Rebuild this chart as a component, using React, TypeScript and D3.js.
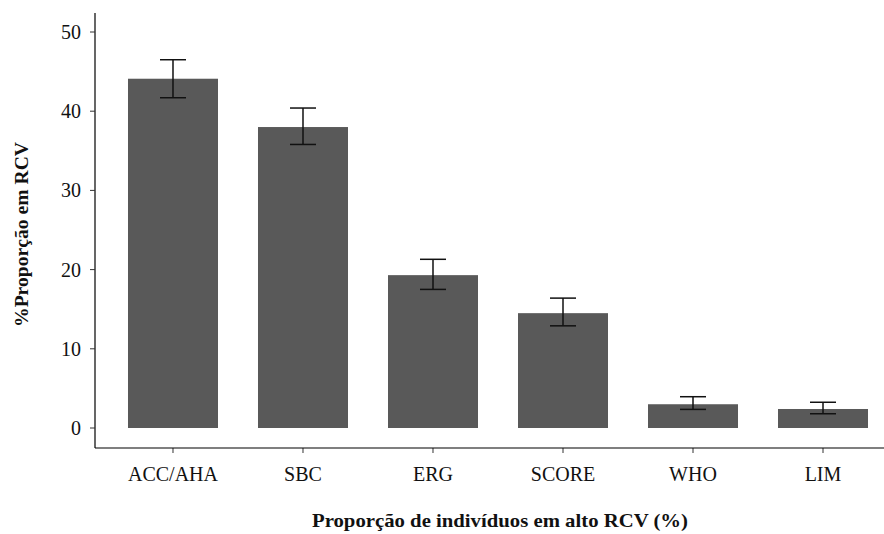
import React from "react";
import * as d3 from "d3";

const categories = ["ACC/AHA", "SBC", "ERG", "SCORE", "WHO", "LIM"];
const values = [44.1, 38.0, 19.3, 14.5, 3.0, 2.4];
const lower = [41.7, 35.8, 17.5, 12.9, 2.35, 1.8];
const upper = [46.5, 40.4, 21.3, 16.4, 3.95, 3.25];
const yTicks = [0, 10, 20, 30, 40, 50];

const W = 884;
const H = 534;
const left = 95;
const axisBottom = 448;
const axisTop = 13;

export default function App() {
  const y = d3.scaleLinear().domain([0, 50]).range([428, 32]);
  const step = 130;
  const x = d3
    .scaleBand<string>()
    .domain(categories)
    .range([left + 0.6 * step - step / 2, left + 0.6 * step - step / 2 + step * categories.length])
    .paddingInner(0.3077)
    .paddingOuter(0.1538);
  const bw = x.bandwidth();
  const cap = 26;
  const font = "'Liberation Serif', 'DejaVu Serif', serif";

  return (
    <svg width={W} height={H} style={{ position: "absolute", left: 0, top: 0, background: "#fff" }} fontFamily={font}>
      {categories.map((c, i) => {
        const cx = (x(c) as number) + bw / 2;
        return (
          <g key={c}>
            <rect x={x(c)} y={y(values[i])} width={bw} height={y(0) - y(values[i])} fill="#595959" />
            <line x1={cx} x2={cx} y1={y(upper[i])} y2={y(lower[i])} stroke="#111" strokeWidth={1.5} />
            <line x1={cx - cap / 2} x2={cx + cap / 2} y1={y(upper[i])} y2={y(upper[i])} stroke="#111" strokeWidth={1.5} />
            <line x1={cx - cap / 2} x2={cx + cap / 2} y1={y(lower[i])} y2={y(lower[i])} stroke="#111" strokeWidth={1.5} />
            <line x1={cx} x2={cx} y1={axisBottom} y2={axisBottom + 5} stroke="#333" strokeWidth={1} />
            <text x={cx} y={481} textAnchor="middle" fontSize={20} fill="#111">
              {c}
            </text>
          </g>
        );
      })}
      <line x1={left} x2={left} y1={axisTop} y2={axisBottom} stroke="#000" strokeWidth={1.2} />
      <line x1={left} x2={W} y1={axisBottom} y2={axisBottom} stroke="#000" strokeWidth={1.2} />
      {yTicks.map((t) => (
        <g key={t}>
          <line x1={left - 5} x2={left} y1={y(t)} y2={y(t)} stroke="#333" strokeWidth={1} />
          <text x={81} y={y(t) + 7} textAnchor="end" fontSize={20} fill="#111">
            {t}
          </text>
        </g>
      ))}
      <text
        transform={`translate(28, 234.5) rotate(-90)`}
        textAnchor="middle"
        fontSize={19}
        fontWeight="bold"
        fill="#111"
        textLength={185}
        lengthAdjust="spacingAndGlyphs"
      >
        %Proporção em RCV
      </text>
      <text
        x={500}
        y={527}
        textAnchor="middle"
        fontSize={19}
        fontWeight="bold"
        fill="#111"
        textLength={376}
        lengthAdjust="spacingAndGlyphs"
      >
        Proporção de indivíduos em alto RCV (%)
      </text>
    </svg>
  );
}
